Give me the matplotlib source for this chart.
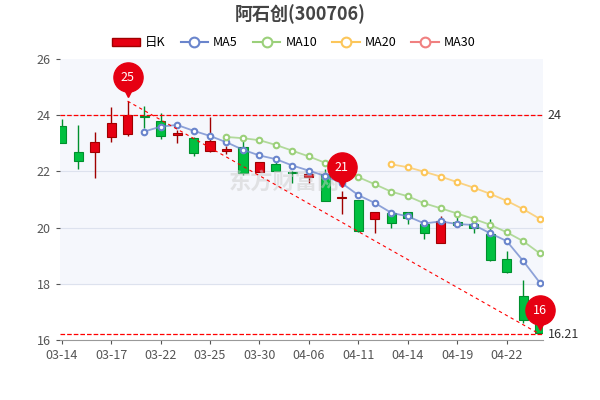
import matplotlib
matplotlib.use("Agg")
import matplotlib.pyplot as plt
import numpy as np
from matplotlib.lines import Line2D
from matplotlib.patches import Patch

plt.rcParams['font.family'] = ['Noto Sans CJK SC', 'DejaVu Sans']

dates = ["03-14","03-15","03-16","03-17","03-18","03-21","03-22","03-23","03-24","03-25",
         "03-28","03-29","03-30","03-31","04-01","04-06","04-07","04-08","04-11","04-12",
         "04-13","04-14","04-15","04-18","04-19","04-20","04-21","04-22","04-25","04-26"]
opens  = [23.60,22.68,22.70,23.24,23.34,23.97,23.79,23.30,23.20,22.73,22.73,22.88,21.99,22.26,21.97,
          21.79,21.90,21.04,20.98,20.30,20.53,20.57,20.13,19.44,20.19,20.13,19.77,18.87,17.58,16.70]
closes = [23.00,22.38,23.06,23.71,24.00,23.93,23.26,23.37,22.67,23.08,22.80,21.93,22.35,22.02,21.94,
          21.90,20.96,21.08,19.89,20.55,20.15,20.33,19.82,20.25,20.08,19.99,18.85,18.43,16.71,16.25]
highs  = [23.86,23.65,23.41,24.28,24.50,24.33,24.07,23.47,23.22,23.95,22.90,23.23,22.35,22.40,22.00,
          21.95,22.07,21.30,20.98,20.55,20.55,20.57,20.13,20.43,20.41,20.30,20.29,19.17,18.14,16.80]
lows   = [23.00,22.10,21.78,23.06,23.26,23.54,23.14,23.00,22.55,22.70,22.62,21.87,21.99,22.02,21.60,
          21.60,20.96,20.47,19.85,19.82,20.00,20.13,19.60,19.44,20.05,19.82,18.80,18.37,16.60,16.21]
tick_labels = ["03-14","03-17","03-22","03-25","03-30","04-06","04-11","04-14","04-19","04-22"]
tick_idx = [0,3,6,9,12,15,18,21,24,27]
pins = {4: "25", 17: "21", 29: "16"}

RED = "#e60012"; GREEN = "#00c040"
fig = plt.figure(figsize=(6,4), dpi=100)
ax = fig.add_axes([0.1, 0.15, 0.805, 0.7025])
ax.set_facecolor("white")
for lo, hi in [(18,20),(20,22),(22,24),(24,26)]:
    ax.axhspan(lo, hi, color="#f5f7fc", zorder=0)
for y in [18,20,22,24]:
    ax.axhline(y, color="#dde2ee", lw=0.8, zorder=0)
x = np.arange(len(dates))
for i in x:
    up = closes[i] >= opens[i]
    c = RED if up else GREEN
    ec = "#a00000" if up else "#00902e"
    ax.vlines(i, lows[i], highs[i], color=ec, lw=1, zorder=2)
    b = min(opens[i], closes[i]); h = max(abs(closes[i]-opens[i]), 0.04)
    ax.bar(i, h, bottom=b, width=0.55, color=c, edgecolor=ec, lw=0.8, zorder=3)

cs = np.array(closes)
def ma(n, start):
    v = np.convolve(cs, np.ones(n)/n, mode="full")[:len(cs)]
    xs = np.arange(start, len(cs)); return xs, v[xs]
for n, start, col in [(5,5,"#6a85cc"),(10,10,"#9bd07a"),(20,20,"#fcc65a")]:
    xs, v = ma(n, start)
    ax.plot(xs, v, color=col, lw=1.3, alpha=0.75, zorder=4)
    ax.plot(xs, v, 'o', ms=4, mfc="white", mec=col, mew=1.5, zorder=5)

ax.axhline(24, color="red", ls="--", lw=0.9, zorder=6)
ax.axhline(16.21, color="red", ls="--", lw=0.9, zorder=6)
ax.plot([4, 29], [24.5, 16.21], color="red", ls="--", lw=0.8, dashes=(3,3), zorder=6)
ax.text(1.01, 24, "24", transform=ax.get_yaxis_transform(), va="center", fontsize=9, color="#333")
ax.text(1.01, 16.21, "16.21", transform=ax.get_yaxis_transform(), va="center", fontsize=9, color="#333")
for i, t in pins.items():
    y0 = highs[i] if i != 29 else lows[i]
    ax.plot(i, y0 + 0.85, marker="o", ms=21, color=RED, zorder=8, clip_on=False)
    ax.plot(i, y0 + 0.4, marker="v", ms=10, color=RED, zorder=8, clip_on=False)
    ax.text(i, y0 + 0.85, t, color="white", ha="center", va="center", fontsize=9, zorder=9)
ax.text(13.5, 21.4, "东方财富网", fontsize=16, color="#cccccc", alpha=0.5, ha="center", fontweight="bold")

ax.set_xlim(-0.1, 29.2); ax.set_ylim(16, 26)
ax.set_yticks([16,18,20,22,24,26])
ax.set_xticks(tick_idx); ax.set_xticklabels(tick_labels)
ax.tick_params(colors="#555", labelsize=9, length=3)
for s in ["top","right","left"]:
    ax.spines[s].set_visible(False)
ax.spines["bottom"].set_color("#999")

fig.text(0.5, 0.965, "阿石创(300706)", ha="center", va="center", fontsize=13, fontweight="bold", color="#444")
handles = [Patch(facecolor=RED, edgecolor="#a00000", label="日K")]
for lab, col in [("MA5","#6a85cc"),("MA10","#9bd07a"),("MA20","#fcc65a"),("MA30","#f08080")]:
    handles.append(Line2D([], [], color=col, marker="o", mfc="white", mec=col, mew=1.5, ms=7, lw=1.5, label=lab))
fig.legend(handles=handles, loc="center", bbox_to_anchor=(0.49, 0.893), ncol=5, frameon=False,
           fontsize=9, handlelength=2.2, columnspacing=1.2, handletextpad=0.4)
fig.savefig("out.png", dpi=100)
